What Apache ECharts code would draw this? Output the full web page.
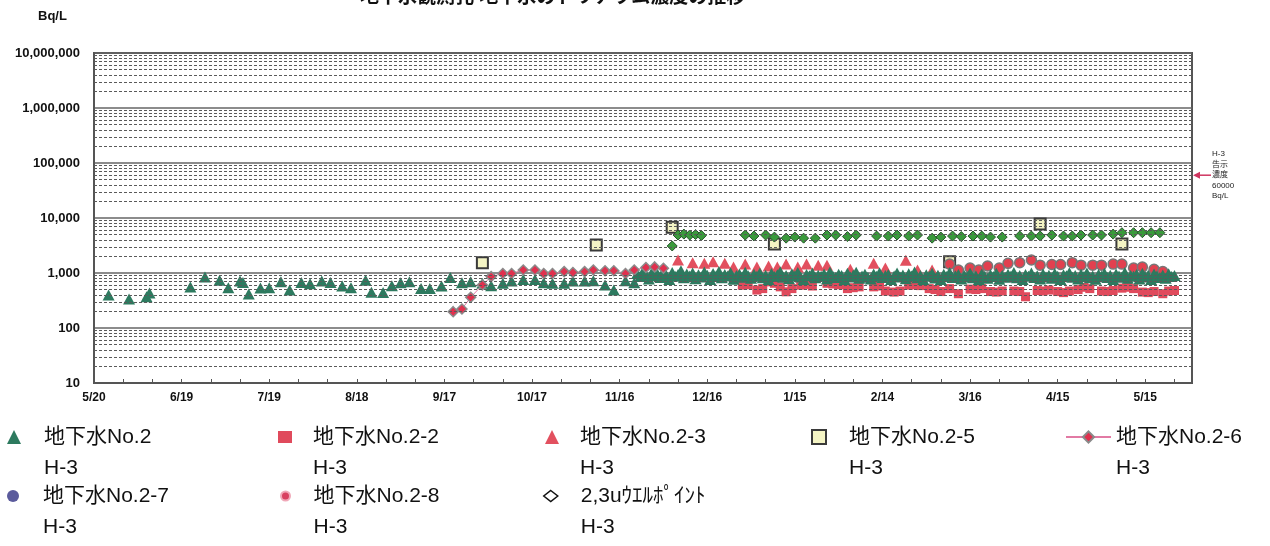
<!DOCTYPE html>
<html>
<head>
<meta charset="utf-8">
<title>地下水のトリチウム濃度の推移</title>
<script src="https://cdn.jsdelivr.net/npm/echarts@6/dist/echarts.min.js"></script>
<style>
  html, body { margin: 0; padding: 0; background: #fff; }
  #main { width: 1270px; height: 546px; }
</style>
</head>
<body>
<div id="main"></div>
<script>
// 地下水No.2 H-3 (11/21まで)
const no2 = [
  ['2013-05-25', 400], ['2013-06-01', 335], ['2013-06-07', 370], ['2013-06-08', 435],
  ['2013-06-22', 555], ['2013-06-27', 850], ['2013-07-02', 740], ['2013-07-05', 540],
  ['2013-07-09', 715], ['2013-07-10', 670], ['2013-07-12', 415], ['2013-07-16', 535],
  ['2013-07-19', 540], ['2013-07-23', 690], ['2013-07-26', 490], ['2013-07-30', 675],
  ['2013-08-02', 640], ['2013-08-06', 715], ['2013-08-09', 675], ['2013-08-13', 580],
  ['2013-08-16', 540], ['2013-08-21', 740], ['2013-08-23', 445], ['2013-08-27', 440],
  ['2013-08-30', 585], ['2013-09-02', 665], ['2013-09-05', 690], ['2013-09-09', 525],
  ['2013-09-12', 525], ['2013-09-16', 580], ['2013-09-19', 830], ['2013-09-23', 665],
  ['2013-09-26', 690], ['2013-09-30', 650], ['2013-10-03', 585], ['2013-10-07', 650],
  ['2013-10-10', 715], ['2013-10-14', 765], ['2013-10-18', 765], ['2013-10-21', 665],
  ['2013-10-24', 650], ['2013-10-28', 650], ['2013-10-31', 715], ['2013-11-04', 715],
  ['2013-11-07', 720], ['2013-11-11', 605], ['2013-11-14', 490], ['2013-11-18', 720],
  ['2013-11-21', 665]
];
// 地下水No.2 H-3 (11/22からは毎日)
const no2DailyFrom = '2013-11-22';
const no2Daily = [
  980, 860, 1050, 920, 780, 1010, 890, 950, 830, 1080,
  900, 760, 1020, 870, 940, 1100, 820, 960, 880, 1000,
  790, 930, 850, 1040, 910, 760, 980, 870, 1060, 820,
  940, 880, 1010, 770, 900, 960, 840, 1030, 890, 800,
  950, 870, 1000, 820, 910, 760, 980, 860, 930, 1050,
  840, 900, 790, 970, 880, 1020, 850, 760, 940, 890,
  1000, 820, 910, 870, 960, 780, 1040, 880, 830, 950,
  900, 760, 990, 850, 920, 1030, 800, 880, 950, 840,
  780, 960, 870, 1010, 830, 900, 940, 760, 880, 1000,
  850, 920, 790, 970, 880, 1040, 820, 900, 760, 930,
  870, 990, 810, 910, 760, 950, 860, 1020, 830, 890,
  940, 780, 900, 850, 1000, 820, 880, 760, 960, 870,
  800, 930, 860, 990, 770, 900, 840, 950, 880, 1020,
  820, 900, 760, 940, 870, 1000, 830, 890, 780, 960,
  850, 910, 800, 980, 870, 760, 930, 890, 1010, 840,
  900, 780, 950, 860, 1000, 820, 880, 770, 940, 870,
  990, 830, 910, 760, 960, 880, 840, 1020, 800, 900,
  870, 940, 780, 990, 850, 910, 760, 960, 880, 830,
  920, 800, 970, 860, 900
];
// 地下水No.2-2 H-3
const no2_2 = [
  ['2013-12-28', 600], ['2013-12-30', 610], ['2014-01-02', 490], ['2014-01-04', 520],
  ['2014-01-06', 690], ['2014-01-08', 650], ['2014-01-10', 560], ['2014-01-12', 455],
  ['2014-01-14', 520], ['2014-01-17', 600], ['2014-01-19', 620], ['2014-01-21', 580],
  ['2014-01-26', 650], ['2014-01-28', 630], ['2014-01-30', 610], ['2014-02-02', 520],
  ['2014-02-04', 540], ['2014-02-06', 560], ['2014-02-11', 560], ['2014-02-13', 580],
  ['2014-02-15', 470], ['2014-02-18', 450], ['2014-02-20', 470], ['2014-02-23', 600],
  ['2014-02-25', 610], ['2014-02-27', 590], ['2014-03-02', 520], ['2014-03-04', 500],
  ['2014-03-06', 460], ['2014-03-09', 520], ['2014-03-12', 420], ['2014-03-16', 510],
  ['2014-03-18', 500], ['2014-03-20', 520], ['2014-03-23', 460], ['2014-03-25', 450],
  ['2014-03-27', 470], ['2014-03-31', 470], ['2014-04-02', 460], ['2014-04-04', 370],
  ['2014-04-08', 480], ['2014-04-10', 470], ['2014-04-12', 490], ['2014-04-15', 460],
  ['2014-04-17', 440], ['2014-04-19', 470], ['2014-04-22', 500], ['2014-04-24', 550],
  ['2014-04-26', 520], ['2014-04-30', 470], ['2014-05-02', 460], ['2014-05-04', 480],
  ['2014-05-07', 530], ['2014-05-09', 550], ['2014-05-11', 520], ['2014-05-14', 450],
  ['2014-05-16', 440], ['2014-05-18', 460], ['2014-05-21', 420], ['2014-05-23', 470],
  ['2014-05-25', 480]
];
// 地下水No.2-3 H-3
const no2_3 = [
  ['2013-12-06', 1720], ['2013-12-11', 1540], ['2013-12-15', 1500], ['2013-12-18', 1600],
  ['2013-12-22', 1500], ['2013-12-25', 1290], ['2013-12-29', 1450], ['2014-01-02', 1290],
  ['2014-01-06', 1340], ['2014-01-09', 1290], ['2014-01-12', 1450], ['2014-01-16', 1290],
  ['2014-01-19', 1450], ['2014-01-23', 1390], ['2014-01-26', 1390], ['2014-02-03', 1170],
  ['2014-02-11', 1500], ['2014-02-15', 1230], ['2014-02-22', 1700], ['2014-02-26', 1135],
  ['2014-03-03', 1135]
];
// 地下水No.2-5 H-3
const no2_5 = [
  ['2013-09-30', 1540], ['2013-11-08', 3230], ['2013-12-04', 6760], ['2014-01-08', 3370],
  ['2014-03-09', 1600], ['2014-04-09', 7780], ['2014-05-07', 3370]
];
// 地下水No.2-6 H-3
const no2_6 = [
  ['2013-09-20', 198], ['2013-09-23', 221], ['2013-09-26', 363], ['2013-09-30', 605],
  ['2013-10-03', 860], ['2013-10-07', 980], ['2013-10-10', 980], ['2013-10-14', 1135],
  ['2013-10-18', 1135], ['2013-10-21', 980], ['2013-10-24', 980], ['2013-10-28', 1060],
  ['2013-10-31', 1020], ['2013-11-04', 1060], ['2013-11-07', 1135], ['2013-11-11', 1100],
  ['2013-11-14', 1100], ['2013-11-18', 980], ['2013-11-21', 1135], ['2013-11-25', 1260],
  ['2013-11-28', 1290], ['2013-12-01', 1220]
];
// 地下水No.2-7 H-3 (図中に読み取れる点なし)
const no2_7 = [];
// 地下水No.2-8 H-3
const no2_8 = [
  ['2014-03-09', 1450], ['2014-03-12', 1135], ['2014-03-16', 1230], ['2014-03-19', 1135],
  ['2014-03-22', 1340], ['2014-03-26', 1230], ['2014-03-29', 1500], ['2014-04-02', 1540],
  ['2014-04-06', 1720], ['2014-04-09', 1390], ['2014-04-13', 1430], ['2014-04-16', 1430],
  ['2014-04-20', 1540], ['2014-04-23', 1390], ['2014-04-27', 1390], ['2014-04-30', 1390],
  ['2014-05-04', 1450], ['2014-05-07', 1450], ['2014-05-11', 1230], ['2014-05-14', 1280],
  ['2014-05-18', 1170], ['2014-05-21', 1060]
];
// 2,3uウエルポイント H-3
const wellPoint = [
  ['2013-12-04', 3100], ['2013-12-06', 4900], ['2013-12-08', 5100], ['2013-12-10', 4900],
  ['2013-12-12', 5000], ['2013-12-14', 4800], ['2013-12-29', 4900], ['2014-01-01', 4700],
  ['2014-01-05', 4900], ['2014-01-08', 4500], ['2014-01-12', 4300], ['2014-01-15', 4500],
  ['2014-01-18', 4300], ['2014-01-22', 4300], ['2014-01-26', 4900], ['2014-01-29', 4900],
  ['2014-02-02', 4600], ['2014-02-05', 4900], ['2014-02-12', 4700], ['2014-02-16', 4700],
  ['2014-02-19', 4900], ['2014-02-23', 4700], ['2014-02-26', 4900], ['2014-03-03', 4300],
  ['2014-03-06', 4500], ['2014-03-10', 4700], ['2014-03-13', 4600], ['2014-03-17', 4700],
  ['2014-03-20', 4700], ['2014-03-23', 4500], ['2014-03-27', 4500], ['2014-04-02', 4700],
  ['2014-04-06', 4700], ['2014-04-09', 4700], ['2014-04-13', 4900], ['2014-04-17', 4700],
  ['2014-04-20', 4700], ['2014-04-23', 4900], ['2014-04-27', 4900], ['2014-04-30', 4900],
  ['2014-05-04', 5100], ['2014-05-07', 5400], ['2014-05-11', 5400], ['2014-05-14', 5400],
  ['2014-05-17', 5400], ['2014-05-20', 5400]
];

const seriesNames = [
  '地下水No.2\nH-3', '地下水No.2-2\nH-3', '地下水No.2-3\nH-3', '地下水No.2-5\nH-3',
  '地下水No.2-6\nH-3', '地下水No.2-7\nH-3', '地下水No.2-8\nH-3', '2,3uｳｴﾙﾎﾟｲﾝﾄ\nH-3'
];
const titleText = '地下水観測孔 地下水のトリチウム濃度の推移';
const limitValue = 60000;
const limitLabel = ['H-3', '告示', '濃度', '60000', 'Bq/L'];

// x軸: 2013/5/20 からの日数
const startDate = Date.UTC(2013, 4, 20);
const xMax = 376;
function dayOf(s) {
  const [y, m, d] = s.split('-').map(Number);
  return (Date.UTC(y, m - 1, d) - startDate) / 864e5;
}
function dateLabel(day) {
  const t = new Date(startDate + day * 864e5);
  return (t.getUTCMonth() + 1) + '/' + t.getUTCDate();
}
const toXY = (list) => list.map(p => [dayOf(p[0]), p[1]]);
const no2Points = toXY(no2).concat(no2Daily.map((v, i) => [dayOf(no2DailyFrom) + i, v]));

// 対数目盛の補助線 (2〜9)
const minorLevels = [];
for (let e = 1; e < 7; e++) {
  for (let k = 2; k <= 9; k++) minorLevels.push(k * Math.pow(10, e));
}

const FONT = '"Liberation Sans", "Noto Sans CJK JP", sans-serif';

// 凡例の位置 [記号の左端, 1行目の中心y, 文字までの余白, 記号の幅, 記号の高さ]
const legendPos = [
  [7, 437, 18, 14, 14], [278, 437, 16, 14, 12], [545, 437, 16, 14, 14], [811, 437, 18, 14, 14],
  [1065, 437, 0, 45, 14], [7, 496, 18, 14, 12], [280, 496, 18, 10, 9], [543, 496, 18, 14, 11]
];
const legendIcons = [
  null, null, null, null, null, null,
  { itemStyle: { color: '#d84060', borderColor: '#f0a8b8', borderWidth: 2 } },
  { itemStyle: { color: '#ffffff', borderColor: '#111', borderWidth: 1.5 } }
];
const LINE_H = 31;

const chart = echarts.init(document.getElementById('main'));

chart.setOption({
  animation: false,
  backgroundColor: '#ffffff',
  title: {
    text: titleText, left: 355, top: -17,
    textStyle: { fontSize: 19, fontWeight: 'bold', color: '#111', fontFamily: FONT }
  },
  grid: {
    left: 94, top: 53, width: 1098, height: 330,
    show: true, borderColor: '#555', borderWidth: 2, backgroundColor: '#fff'
  },
  legend: legendPos.map((p, i) => {
    const icon = legendIcons[i];
    return {
      data: [icon ? Object.assign({ name: seriesNames[i] }, icon) : seriesNames[i]],
      // 先頭に空行を入れて、記号を1行目の高さに合わせる
      formatter: name => '\n' + name,
      left: p[0],
      top: p[1] - LINE_H * 1.5,
      padding: 0,
      itemWidth: p[3],
      itemHeight: p[4],
      selectedMode: false,
      textStyle: {
        fontSize: 21, color: '#111', fontFamily: FONT,
        lineHeight: LINE_H, padding: [0, 0, 0, p[2]]
      }
    };
  }),
  xAxis: {
    type: 'value', min: 0, max: xMax, interval: 30,
    axisLine: { show: true, lineStyle: { color: '#555', width: 2 } },
    axisTick: { show: true, inside: true, length: 4, lineStyle: { color: '#555' } },
    minorTick: { show: true, splitNumber: 3, length: 4, lineStyle: { color: '#555' } },
    splitLine: { show: false },
    axisLabel: {
      formatter: v => dateLabel(v), showMaxLabel: false, margin: 9,
      fontSize: 12, fontWeight: 'bold', color: '#111', fontFamily: FONT
    }
  },
  yAxis: {
    type: 'log', logBase: 10, min: 10, max: 1e7,
    axisLine: { show: true, lineStyle: { color: '#555', width: 2 } },
    axisTick: { show: false },
    splitLine: { show: true, lineStyle: { color: '#666', width: 1.5 } },
    axisLabel: {
      formatter: v => Math.round(v).toLocaleString('en-US'), margin: 14,
      fontSize: 13, fontWeight: 'bold', color: '#111', fontFamily: FONT
    }
  },
  series: [
    {
      name: 'minor', type: 'line', data: [], silent: true, z: 1,
      markLine: {
        silent: true, symbol: 'none', animation: false, label: { show: false },
        lineStyle: { color: '#5a5a5a', width: 1, type: [3, 2] },
        emphasis: { disabled: true },
        data: minorLevels.map(v => ({ yAxis: v }))
      }
    },
    {
      name: seriesNames[3], type: 'scatter', data: toXY(no2_5), symbol: 'rect', symbolSize: 11,
      itemStyle: { color: '#f4f4c4', borderColor: '#3a3a3a', borderWidth: 2, opacity: 1 }
    },
    {
      name: seriesNames[4], type: 'line', data: toXY(no2_6), symbol: 'diamond', symbolSize: 10,
      lineStyle: { color: '#e27aa4', width: 1 },
      itemStyle: { color: '#e0304e', borderColor: '#8a8a8a', borderWidth: 1.5 }
    },
    {
      name: seriesNames[5], type: 'scatter', data: no2_7, symbol: 'circle', symbolSize: 10,
      itemStyle: { color: '#5b5b9c', opacity: 1 }
    },
    {
      name: seriesNames[1], type: 'scatter', data: toXY(no2_2), symbol: 'rect', symbolSize: 9,
      itemStyle: { color: '#e04a5c', opacity: 1 }
    },
    {
      name: seriesNames[2], type: 'scatter', data: toXY(no2_3), symbol: 'triangle', symbolSize: [12, 11],
      itemStyle: { color: '#e2505f', opacity: 1 }
    },
    {
      name: seriesNames[6], type: 'scatter', data: toXY(no2_8), symbol: 'circle', symbolSize: 10,
      itemStyle: { color: '#e2404f', borderColor: '#777', borderWidth: 1.5, opacity: 1 }
    },
    {
      name: seriesNames[7], type: 'scatter', data: toXY(wellPoint), symbol: 'diamond', symbolSize: 10,
      itemStyle: { color: '#3a9a3c', borderColor: '#25552a', borderWidth: 1, opacity: 1 }
    },
    {
      name: seriesNames[0], type: 'scatter', data: no2Points, symbol: 'triangle', symbolSize: [12, 11],
      itemStyle: { color: '#2d7a5f', opacity: 1 }
    }
  ]
});

// 告示濃度の注記 (軸の外側)
const yLim = chart.convertToPixel({ yAxisIndex: 0 }, limitValue);
const xEdge = chart.convertToPixel({ xAxisIndex: 0 }, xMax);
chart.setOption({
  graphic: [
    {
      type: 'line', silent: true,
      shape: { x1: xEdge + 3, y1: yLim, x2: xEdge + 19, y2: yLim },
      style: { stroke: '#cf3560', lineWidth: 1.5 }
    },
    {
      type: 'polygon', silent: true,
      shape: { points: [[xEdge + 1, yLim], [xEdge + 8, yLim - 3.5], [xEdge + 8, yLim + 3.5]] },
      style: { fill: '#cf3560' }
    },
    {
      type: 'text', silent: true, x: xEdge + 20, y: yLim,
      style: {
        text: limitLabel.join('\n'), font: '8px ' + FONT, lineHeight: 10.5,
        verticalAlign: 'middle', fill: '#222'
      }
    },
    {
      type: 'text', silent: true, left: 38, top: 10,
      style: { text: 'Bq/L', font: 'bold 13px ' + FONT, fill: '#111' }
    }
  ]
});
</script>
</body>
</html>
